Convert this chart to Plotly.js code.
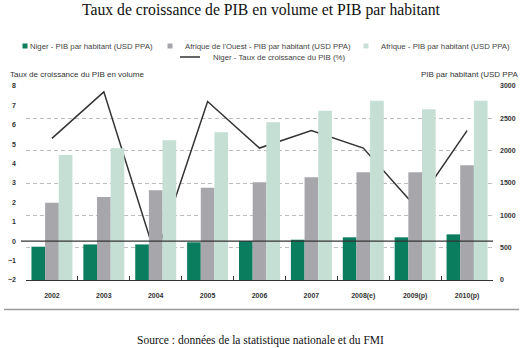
<!DOCTYPE html>
<html>
<head>
<meta charset="utf-8">
<script src="https://cdn.plot.ly/plotly-3.0.1.min.js"></script>
<style>html,body{margin:0;padding:0;background:#fff;}#chart{width:522px;height:348px;}</style>
</head>
<body>
<div id="chart"></div>
<script>
const years = ["2002","2003","2004","2005","2006","2007","2008(e)","2009(p)","2010(p)"];
const nigerPib = [515, 550, 550, 583, 603, 623, 660, 660, 706];
const afriqueOuestPib = [1196, 1283, 1386, 1427, 1510, 1588, 1665, 1665, 1773];
const afriquePib = [1932, 2036, 2160, 2283, 2438, 2618, 2772, 2639, 2772];
const nigerCroissance = [5.3, 7.7, -0.8, 7.2, 4.8, 5.7, 4.8, 1.8, 5.7];
const leftTicks = [-2, -1, 0, 1, 2, 3, 4, 5, 6, 7, 8];
const rightTicks = [0, 500, 1000, 1500, 2000, 2500, 3000];

const tickFont = {family: "Liberation Sans, Arial, sans-serif", size: 7, color: "#333", weight: "bold"};
const legFont = {family: "Liberation Sans, Arial, sans-serif", size: 7.8, color: "#444"};
const axTitleFont = {family: "Liberation Sans, Arial, sans-serif", size: 8, color: "#333"};

const traces = [
  {type: "bar", name: "Niger - PIB par habitant (USD PPA)", x: years, y: nigerPib, yaxis: "y2",
   marker: {color: "#0b7d5f"}, legend: "legend"},
  {type: "bar", name: "Afrique de l'Ouest - PIB par habitant (USD PPA)", x: years, y: afriqueOuestPib, yaxis: "y2",
   marker: {color: "#a7a6ab"}, legend: "legend3"},
  {type: "bar", name: "Afrique - PIB par habitant (USD PPA)", x: years, y: afriquePib, yaxis: "y2",
   marker: {color: "#c5dfd5"}, legend: "legend4"},
  {type: "scatter", mode: "lines", name: "Niger - Taux de croissance du PIB (%)", x: years, y: nigerCroissance, yaxis: "y",
   line: {color: "#333", width: 1.5}, legend: "legend2"}
];

// legend text start is placed 30px right of the legend's left edge (adjusted after drawing)
function leg(textStartPx, yPx) {
  return {orientation: "h", x: (textStartPx - 30) / 522, xanchor: "left", xref: "container",
          y: 1 - yPx / 348, yref: "container", yanchor: "middle",
          font: legFont, itemwidth: 30, bgcolor: "rgba(0,0,0,0)", borderwidth: 0};
}

const layout = {
  width: 522, height: 348,
  margin: {l: 26, r: 29, t: 86, b: 68},
  paper_bgcolor: "#fff", plot_bgcolor: "#fff",
  barmode: "group", bargap: 0.21, bargroupgap: 0,
  title: {text: "Taux de croissance de PIB en volume et PIB par habitant",
          font: {family: "Liberation Serif, Times New Roman, serif", size: 15.7, color: "#111"},
          x: 0.5, xanchor: "center", y: 1 - 10/348, yref: "container", yanchor: "middle"},
  xaxis: {type: "category", showline: true, linecolor: "#333", linewidth: 1,
          ticks: "inside", tickson: "boundaries", ticklen: 4, tickcolor: "#333",
          tickfont: tickFont, showgrid: false, zeroline: false, ticklabelstandoff: 9},
  yaxis: {range: [-2, 8], tickvals: leftTicks, showgrid: false, zeroline: false, showline: false,
          ticks: "", tickfont: tickFont, ticklabelstandoff: 9},
  yaxis2: {range: [0, 3000], tickvals: rightTicks, overlaying: "y", side: "right",
           showgrid: true, gridcolor: "#bdbdbd", griddash: "4px,3px", gridwidth: 1,
           zeroline: false, showline: false, ticks: "", tickfont: tickFont, ticklabelstandoff: 6},
  showlegend: true,
  legend: leg(30, 46),
  legend3: leg(175, 46),
  legend4: leg(371, 46),
  legend2: leg(203, 57),
  shapes: [
    {type: "line", xref: "paper", x0: -5/467, x1: 1, yref: "y", y0: 0, y1: 0,
     line: {color: "#333", width: 1.2}, layer: "above"},
    {type: "line", xref: "paper", x0: -22/467, x1: 493/467, yref: "paper", y0: -29.5/194, y1: -29.5/194,
     line: {color: "#9a9a9a", width: 1.5}, layer: "above"}
  ],
  annotations: [
    {text: "Taux de croissance du PIB en volume", xref: "paper", yref: "paper",
     x: -18/467, y: 1 + 12/194, xanchor: "left", yanchor: "middle", showarrow: false,
     font: axTitleFont},
    {text: "PIB par habitant (USD PPA", xref: "paper", yref: "paper",
     x: 1 + 27/467, y: 1 + 12/194, xanchor: "right", yanchor: "middle", showarrow: false,
     font: axTitleFont},
    {text: "Source : données de la statistique nationale et du FMI", xref: "paper", yref: "paper",
     x: (260 - 26)/467, y: -(340 - 280)/194, xanchor: "center", yanchor: "middle", showarrow: false,
     font: {family: "Liberation Serif, Times New Roman, serif", size: 11.5, color: "#111"}}
  ]
};

Plotly.newPlot("chart", traces, layout, {displayModeBar: false, staticPlot: true}).then(function (gd) {
  // compact legend swatches like the reference: small squares / short line close to the text
  gd.querySelectorAll(".infolayer g.traces").forEach(function (item) {
    var isLine = !!item.querySelector(".legendlines path");
    var pts = item.querySelector(".legendpoints");
    item.querySelectorAll(".legendpoints path").forEach(function (p) {
      var d = p.getAttribute("d") || "";
      if (d.indexOf("M6,6H-6V-6H6Z") === 0) p.setAttribute("d", "M2.5,2.5H-2.5V-2.5H2.5Z");
    });
    if (!isLine && pts) pts.setAttribute("transform", "translate(5,0)");
    if (isLine) {
      item.querySelectorAll(".legendlines path").forEach(function (p) { p.setAttribute("d", "M7,0h20"); });
    }
    var t = item.querySelector("text.legendtext");
    if (t) {
      t.setAttribute("x", "30");
      t.querySelectorAll("tspan[x]").forEach(function (s) { s.setAttribute("x", "30"); });
    }
  });
});
</script>
</body>
</html>
